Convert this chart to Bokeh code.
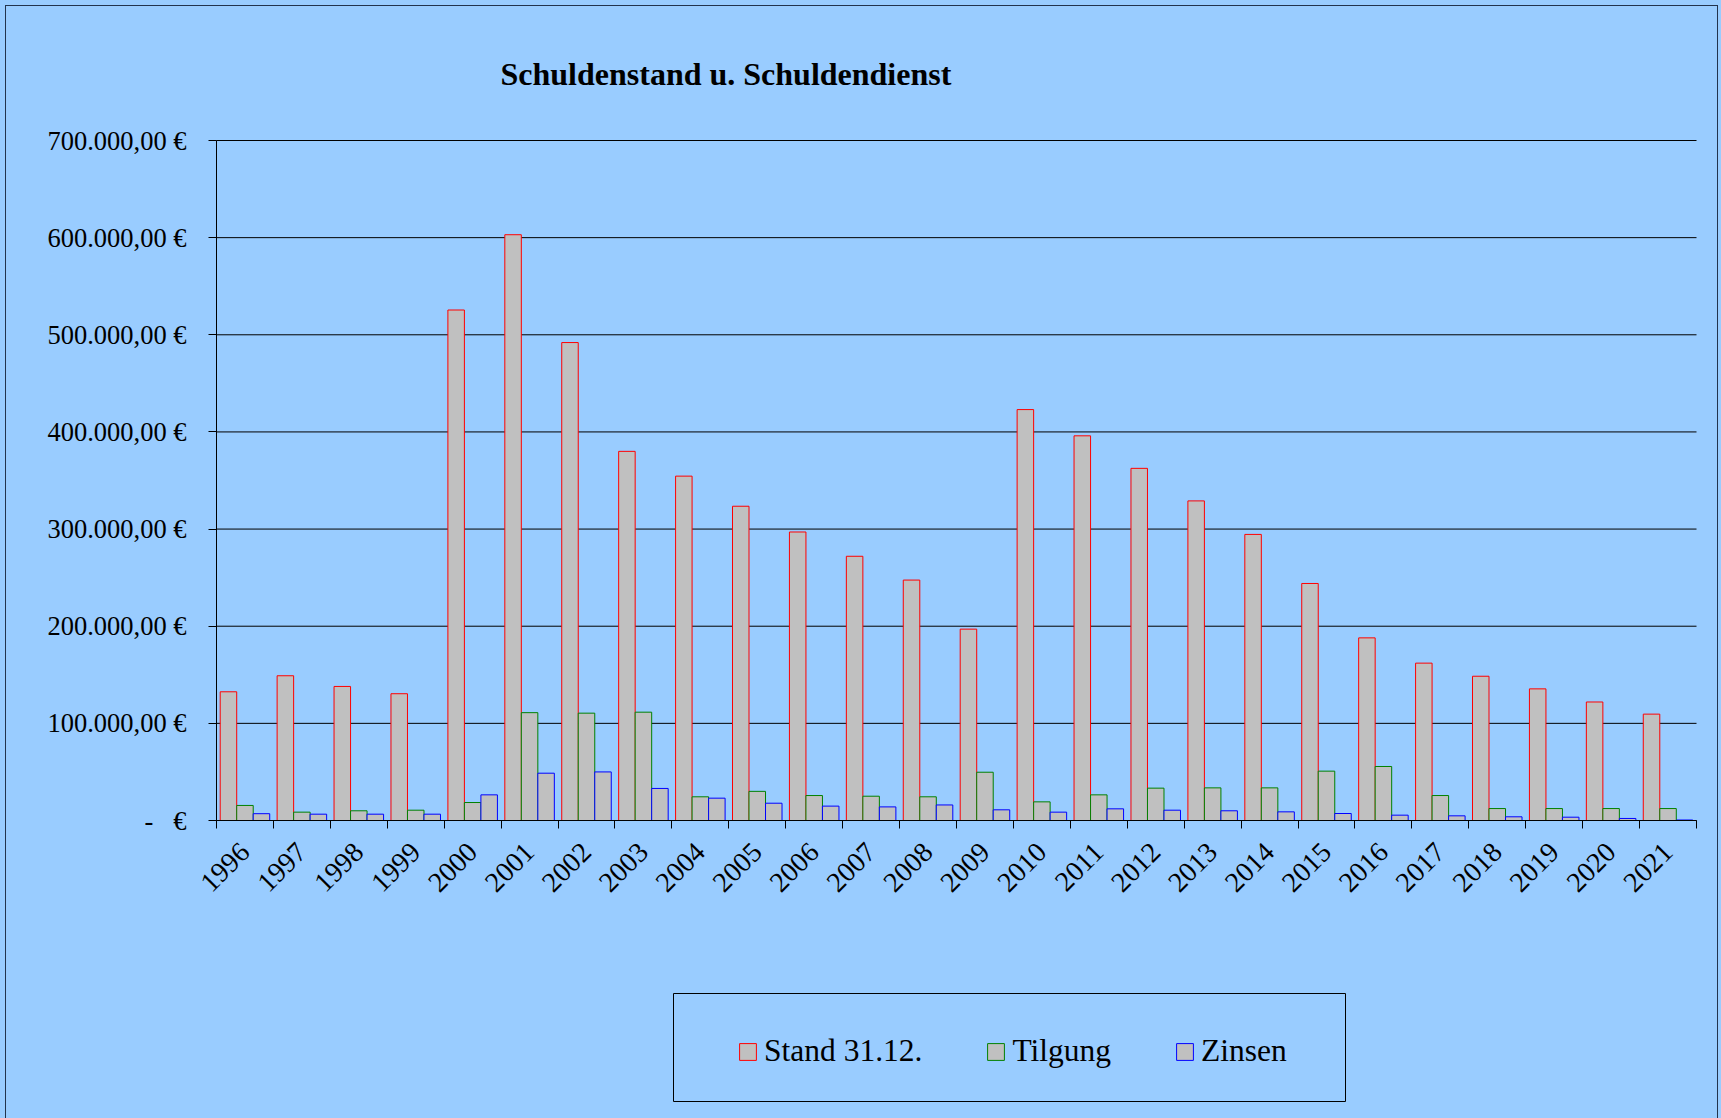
import math
from bokeh.plotting import figure
from bokeh.layouts import column
from bokeh.models import (Range1d, FixedTicker, ColumnDataSource, Legend, LegendItem,
                          Label, BoxAnnotation)
from bokeh.embed import file_html
from bokeh.resources import INLINE

# ---- data ----
years = [str(y) for y in range(1996, 2022)]
stand = [132500, 149000, 138000, 130500, 525500, 603000, 492000, 380000, 354500, 323500,
         297000, 272000, 247500, 197000, 423000, 396000, 362500, 329000, 294500, 244000,
         188000, 162000, 148500, 135500, 122000, 109500]
tilgung = [15500, 8600, 10000, 10600, 18500, 111000, 110500, 111500, 24400, 30000,
           25700, 25000, 24400, 49700, 19200, 26400, 33300, 33600, 33600, 50800,
           55600, 25700, 12300, 12300, 12300, 12300]
zinsen = [7000, 6500, 6500, 6500, 26400, 48700, 50000, 33000, 23000, 17800,
          14800, 14000, 16000, 11000, 8600, 12000, 10600, 10000, 8900, 7200,
          5500, 4800, 3800, 3400, 2100, 500]
y_ticks = [0, 100000, 200000, 300000, 400000, 500000, 600000, 700000]
y_tick_labels = ["-\u00a0\u00a0\u00a0€", "100.000,00 €", "200.000,00 €", "300.000,00 €",
                 "400.000,00 €", "500.000,00 €", "600.000,00 €", "700.000,00 €"]
series_names = ["Stand 31.12.", "Tilgung", "Zinsen"]
title_text = "Schuldenstand u. Schuldendienst"

BG = "#99CCFF"
FONT = "Liberation Serif"
BW = 0.29

n = len(years)
centers = [i + 0.5 for i in range(n)]
y_max = max(y_ticks)

# ---- layout constants (pixels inside the figure canvas) ----
W, H = 1711, 1112           # canvas size
X0, PLOT_W = 210, 1480      # x pixel of the value axis, width of the category area
Y0, YTOP = 814, 134         # y pixel of 0 and of the top tick
cw = PLOT_W / n             # pixels per category
s = (Y0 - YTOP) / y_max     # pixels per euro
LEG_L, LEG_R, LEG_T, LEG_B = 667, 1339, 987, 1095   # legend frame (pixels)


def px_x(px):
    return (px - X0) / cw


def px_y(py):
    return (Y0 - py) / s


p = figure(frame_width=W, frame_height=H,
           x_range=Range1d(px_x(0), px_x(W)),
           y_range=Range1d(px_y(H), px_y(0)),
           output_backend="svg", toolbar_location=None,
           background_fill_color=BG, border_fill_color=BG,
           min_border_left=0, min_border_right=0,
           min_border_top=0, min_border_bottom=0,
           outline_line_color=None,
           margin=(6, 4, 0, 6),
           styles={"outline": "1px solid #22334d"})

# title
p.add_layout(Label(x=px_x(494), y=px_y(67), text=title_text,
                   text_font=FONT, text_font_size="32px", text_font_style="bold",
                   text_color="black", text_align="left", text_baseline="alphabetic"))

# horizontal grid lines (only across the plot area)
p.segment(x0=[0] * len(y_ticks), x1=[n] * len(y_ticks), y0=y_ticks, y1=y_ticks,
          line_color="black", line_width=1)

src = ColumnDataSource(dict(
    xr=[c - BW for c in centers], xg=centers, xb=[c + BW for c in centers],
    stand=stand, tilgung=tilgung, zinsen=zinsen))

r1 = p.vbar(x="xr", top="stand", width=BW, source=src, fill_color="#C0C0C0",
            line_color="#FF0000", line_width=1)
r2 = p.vbar(x="xg", top="tilgung", width=BW, source=src, fill_color="#C0C0C0",
            line_color="#008000", line_width=1)
r3 = p.vbar(x="xb", top="zinsen", width=BW, source=src, fill_color="#C0C0C0",
            line_color="#0000FF", line_width=1)

p.xgrid.visible = False
p.ygrid.visible = False

# y axis (drawn at x = 0)
p.yaxis.fixed_location = 0
p.yaxis.ticker = FixedTicker(ticks=y_ticks)
p.yaxis.bounds = (0, y_max)
p.yaxis.major_label_overrides = {t: l for t, l in zip(y_ticks, y_tick_labels)}
p.yaxis.axis_line_color = "black"
p.yaxis.major_tick_line_color = "black"
p.yaxis.major_tick_out = 8
p.yaxis.major_tick_in = 0
p.yaxis.minor_tick_line_color = None
p.yaxis.major_label_text_font = FONT
p.yaxis.major_label_text_font_size = "26.5px"
p.yaxis.major_label_text_color = "black"
p.yaxis.major_label_standoff = 22

# x axis (drawn at y = 0)
p.xaxis.fixed_location = 0
p.xaxis.bounds = (0, n)
p.xaxis.ticker = FixedTicker(ticks=centers, minor_ticks=list(range(n + 1)))
p.xaxis.major_label_overrides = {c: y for c, y in zip(centers, years)}
p.xaxis.axis_line_color = "black"
p.xaxis.major_tick_line_color = None
p.xaxis.major_tick_out = 0
p.xaxis.major_tick_in = 0
p.xaxis.minor_tick_line_color = "black"
p.xaxis.minor_tick_out = 8
p.xaxis.minor_tick_in = 0
p.xaxis.major_label_orientation = math.pi / 4
p.xaxis.major_label_text_font = FONT
p.xaxis.major_label_text_font_size = "28px"
p.xaxis.major_label_text_color = "black"
p.xaxis.major_label_standoff = 19

# legend frame
p.add_layout(BoxAnnotation(left=px_x(LEG_L), right=px_x(LEG_R),
                           top=px_y(LEG_T), bottom=px_y(LEG_B),
                           fill_color=BG, fill_alpha=1,
                           line_color="black", line_width=1, line_alpha=1))

# legend
lg = Legend(items=[LegendItem(label=series_names[0], renderers=[r1]),
                   LegendItem(label=series_names[1], renderers=[r2]),
                   LegendItem(label=series_names[2], renderers=[r3])])
lg.orientation = "horizontal"
lg.location = (731, 49)
lg.padding = 36
lg.spacing = 63
lg.margin = 0
lg.border_line_color = None
lg.background_fill_alpha = 0
lg.label_text_font = FONT
lg.label_text_font_size = "31.5px"
lg.label_text_color = "black"
lg.glyph_width = 21
lg.glyph_height = 21
lg.label_standoff = 6
lg.label_height = 36
p.add_layout(lg, "center")

page = column(p, styles={"background-color": BG})
open("out.html", "w").write(file_html(page, INLINE))
